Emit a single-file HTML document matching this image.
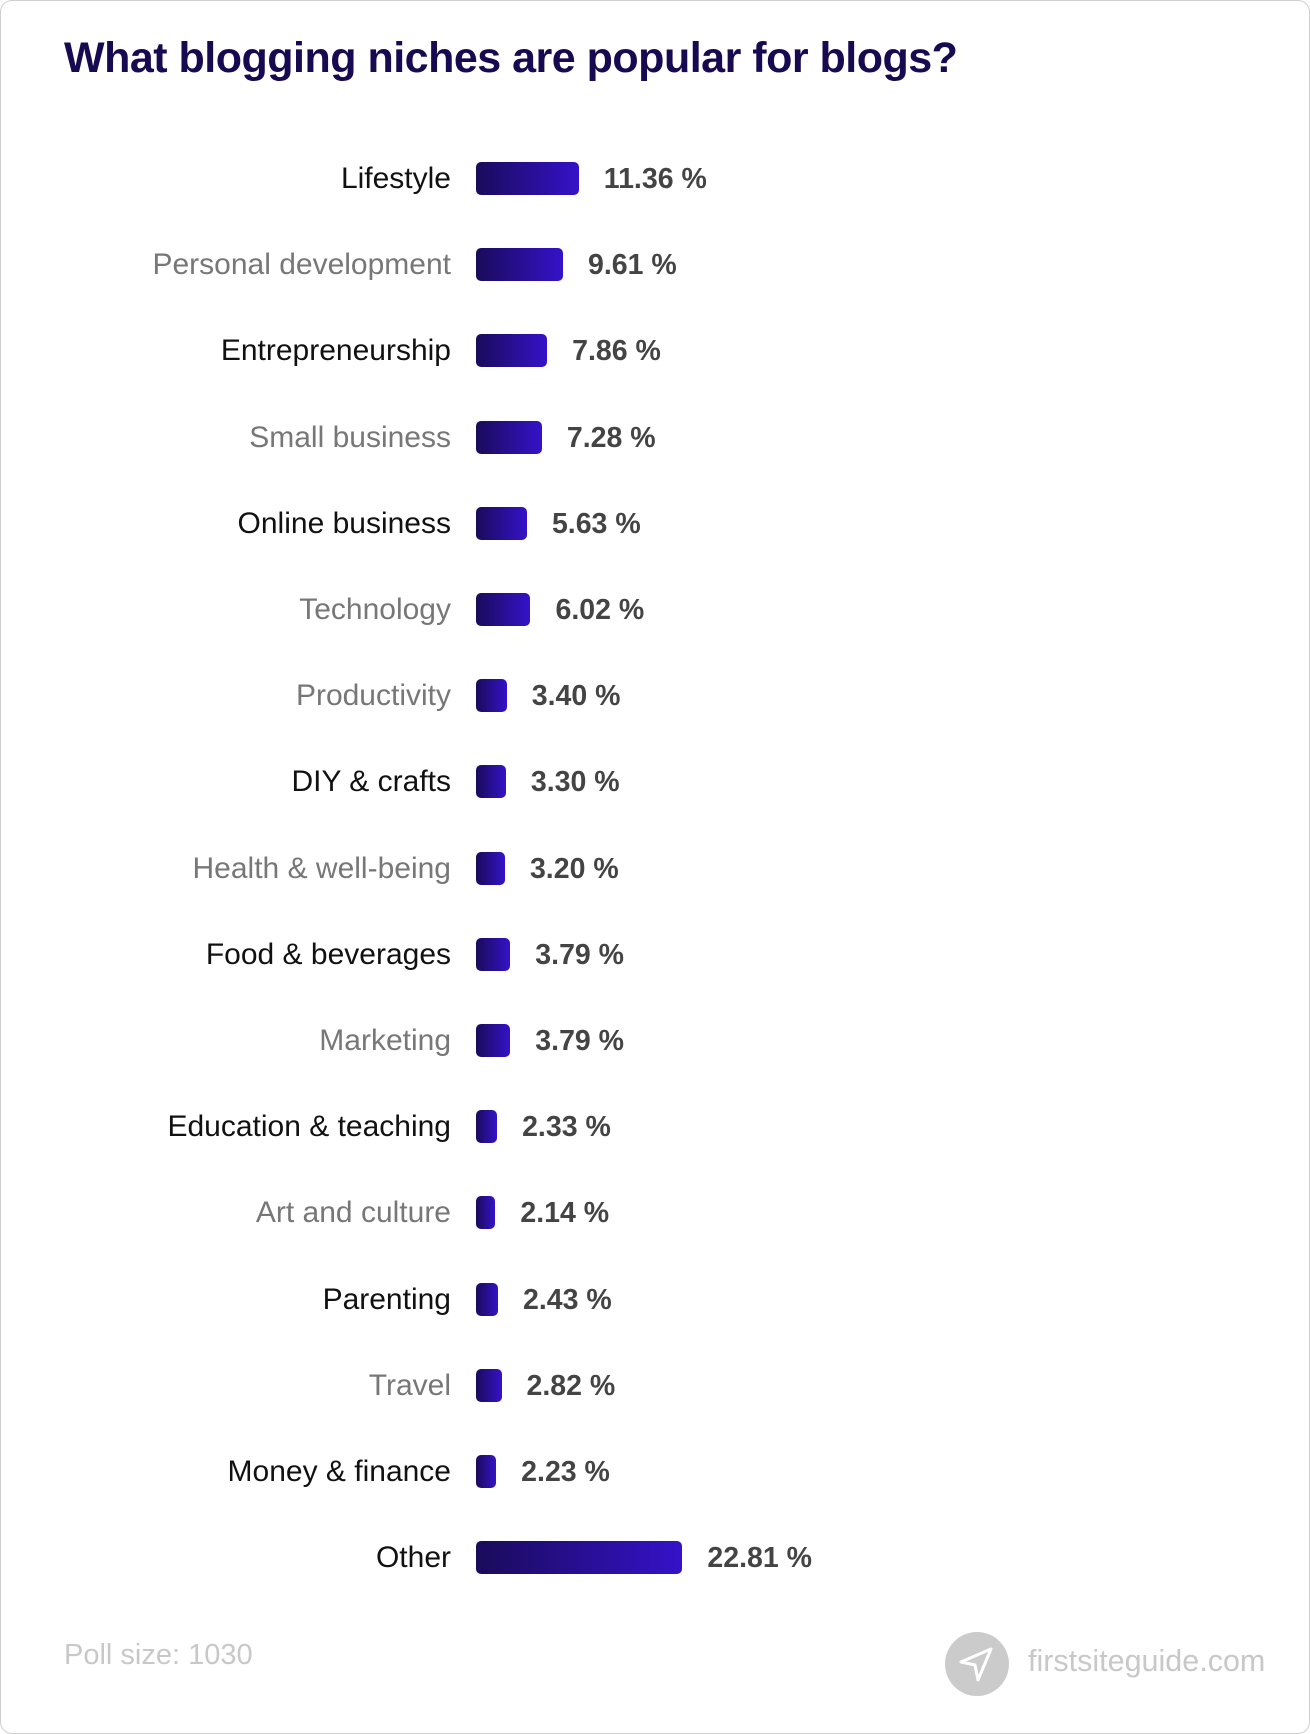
<!DOCTYPE html>
<html><head><meta charset="utf-8"><style>
html,body{margin:0;padding:0;background:#fff;}
body{width:1310px;height:1734px;position:relative;overflow:hidden;font-family:"Liberation Sans",sans-serif;}
.card{position:absolute;left:0;top:0;border:1px solid #cfcfcf;border-radius:12px;box-sizing:border-box;width:1310px;height:1734px;}
.title{position:absolute;left:64px;top:34px;font-size:43px;font-weight:bold;color:#170a50;letter-spacing:-0.5px;}
.row{position:absolute;left:0;width:1310px;height:32px;}
.lab{position:absolute;right:859px;top:-2px;font-size:30px;white-space:nowrap;line-height:38px;}
.bar{position:absolute;left:476px;top:0;height:33px;border-radius:5px;background:linear-gradient(90deg,#1a0b5a,#3512c9);}
.val{position:absolute;top:-2px;font-size:28.5px;font-weight:bold;color:#444;white-space:nowrap;line-height:38px;}
.foot{position:absolute;font-size:29px;color:#c8c8c8;}
</style></head><body>
<div class="card"></div>
<div class="title">What blogging niches are popular for blogs?</div>
<div id="rows"></div>
<div class="foot" style="left:64px;top:1639px;">Poll size: 1030</div>
<svg style="position:absolute;left:945px;top:1632px" width="64" height="64" viewBox="0 0 64 64">
<circle cx="32" cy="32" r="32" fill="#cbcbcb"/>
<path d="M46 17 L16 30 L30 33 L33 48 Z" fill="none" stroke="#fff" stroke-width="3" stroke-linejoin="round"/>
</svg>
<div class="foot" style="left:1028px;top:1644px;font-size:30.5px;">firstsiteguide.com</div>
<script>
var d=[["Lifestyle",11.36,0],["Personal development",9.61,1],["Entrepreneurship",7.86,0],["Small business",7.28,1],["Online business",5.63,0],["Technology",6.02,1],["Productivity",3.40,1],["DIY & crafts",3.30,0],["Health & well-being",3.20,1],["Food & beverages",3.79,0],["Marketing",3.79,1],["Education & teaching",2.33,0],["Art and culture",2.14,1],["Parenting",2.43,0],["Travel",2.82,1],["Money & finance",2.23,0],["Other",22.81,0]];
var h="";
d.forEach(function(r,i){
 var top=162+i*86.2;
 var w=Math.max(r[1]*9.05,18);
 var col=r[2]?"#777":"#111";
 h+='<div class="row" style="top:'+top+'px"><div class="lab" style="color:'+col+'">'+r[0].replace("&","&amp;")+'</div><div class="bar" style="width:'+w+'px"></div><div class="val" style="left:'+(476+w+25)+'px">'+r[1].toFixed(2)+' %</div></div>';
});
document.getElementById("rows").innerHTML=h;
</script>
</body></html>
